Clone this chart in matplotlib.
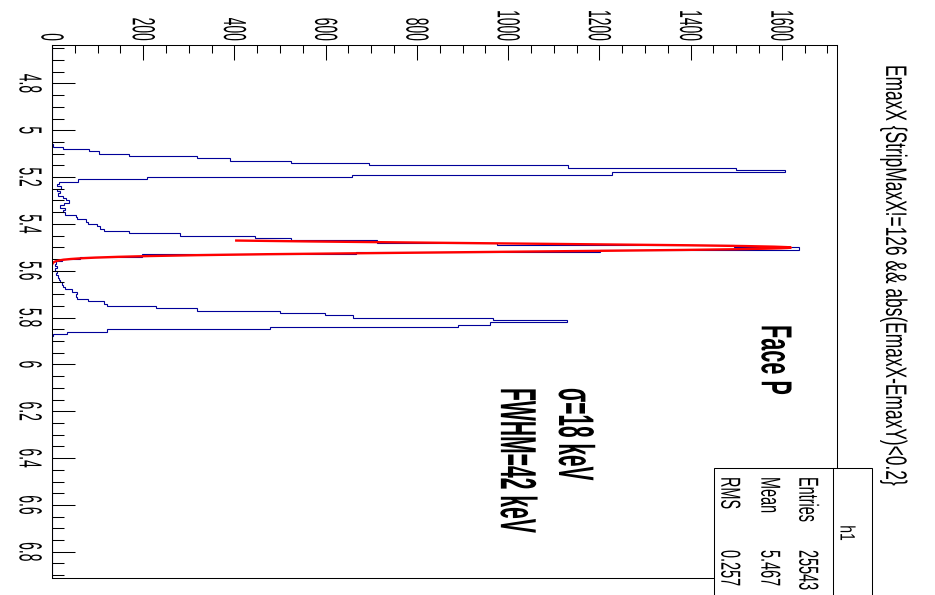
import numpy as np
import matplotlib
matplotlib.use("Agg")
import matplotlib.pyplot as plt
import matplotlib.patheffects as pe
from matplotlib.patches import Rectangle
from matplotlib.lines import Line2D
from matplotlib.ticker import MultipleLocator
from matplotlib.transforms import Affine2D

# ---------- 数据（从图上读，0.01 MeV 一格，从 5.05 MeV 起）----------
E_START = 5.05
COUNTS = [1, 3, 25, 82, 104, 169, 317, 390, 524, 696,          # 5.05-5.14
          1132, 1500, 1607, 1227, 657, 208, 58, 16, 12, 19,    # 5.15-5.24
          12, 18, 13, 25, 30, 38, 27, 18, 29, 25,              # 5.25-5.34
          28, 52, 54, 75, 80, 98, 105, 113, 169, 281,          # 5.35-5.44
          445, 524, 712, 976, 1496, 1638, 1202, 667, 197, 61,  # 5.45-5.54
          23, 9, 6, 11, 7, 12, 9, 13, 15, 18,                  # 5.55-5.64
          23, 25, 28, 43, 54, 52, 54, 80, 113, 120,            # 5.65-5.74
          228, 317, 500, 599, 659, 966, 1128, 960, 890, 478,   # 5.75-5.84
          121, 32, 3]                                          # 5.85-5.87

# 高斯拟合（红线）
FIT_MEAN, FIT_SIGMA, FIT_AMP = 5.501, 0.018, 1620
FIT_RANGE = (5.471, 5.570)

TITLE = "EmaxX {StripMaxX!=126 && abs(EmaxX-EmaxY)<0.2}"
E_TICKS = [4.8, 5.0, 5.2, 5.4, 5.6, 5.8, 6.0, 6.2, 6.4, 6.6, 6.8]
E_LABELS = ["4.8", "5", "5.2", "5.4", "5.6", "5.8", "6", "6.2", "6.4", "6.6", "6.8"]
N_TICKS = [0, 200, 400, 600, 800, 1000, 1200, 1400, 1600]
STATS = [("Entries", "25543"), ("Mean", "5.467"), ("RMS", "0.257")]

W, H = 935, 595
plt.rcParams["font.family"] = ["Liberation Sans", "DejaVu Sans"]


class Tall(pe.AbstractPathEffect):
    """原图（ROOT 画布）被横向拉伸过，字形偏高：沿字高方向放大 k 倍"""
    def __init__(self, k):
        super().__init__()
        self.k = k

    def draw_path(self, renderer, gc, tpath, affine, rgbFace=None):
        local = Affine2D().translate(0, -36).scale(1, self.k).translate(0, 36)
        renderer.draw_path(gc, tpath, local + affine, rgbFace)


def vtext(x, y, s, size, k, va="top", **kw):
    # 像素坐标，竖排（从上往下读）
    fig.text(x / W, 1 - y / H, s, rotation=-90, ha="center", va=va,
             fontsize=size, path_effects=[Tall(k)], **kw)


edges = np.round(np.arange(464, 692) / 100, 2)   # 4.64 ... 6.91
h = np.zeros(len(edges) - 1)
i0 = int(round((E_START - edges[0]) * 100))
h[i0:i0 + len(COUNTS)] = COUNTS

fig = plt.figure(figsize=(W / 100, H / 100), dpi=100)
ax = fig.add_axes([52 / W, 1 - 578 / H, 785 / W, 533 / H])

ax.stairs(h, edges, orientation="horizontal", color="#000099", lw=0.8)
e = np.linspace(*FIT_RANGE, 300)
ax.plot(FIT_AMP * np.exp(-0.5 * ((e - FIT_MEAN) / FIT_SIGMA) ** 2), e, color="red", lw=1.7)

ax.set_xlim(0, 1721)
ax.set_ylim(6.912, 4.636)
for s in ax.spines.values():
    s.set_linewidth(0.75)

# 计数轴在上，能量轴在左，刻度朝里
ax.xaxis.set_ticks_position("top")
ax.set_xticks(N_TICKS, [str(v) for v in N_TICKS])
ax.xaxis.set_minor_locator(MultipleLocator(50))
ax.set_yticks(E_TICKS, E_LABELS)
ax.yaxis.set_minor_locator(MultipleLocator(0.05))
ax.tick_params(axis="x", which="major", direction="in", length=10.8, width=0.75,
               pad=2.9, labelsize=10, top=True, bottom=False, labeltop=True, labelbottom=False)
ax.tick_params(axis="x", which="minor", direction="in", length=5.8, width=0.75, top=True, bottom=False)
ax.tick_params(axis="y", which="major", direction="in", length=16.6, width=0.75,
               pad=15.8, labelsize=10, left=True, right=False)
ax.tick_params(axis="y", which="minor", direction="in", length=8.6, width=0.75, left=True, right=False)
for lbl in ax.get_xticklabels():
    lbl.set_rotation(-90)
    lbl.set_ha("center")
    lbl.set_va("bottom")
    lbl.set_path_effects([Tall(2.3)])
for lbl in ax.get_yticklabels():
    lbl.set_rotation(-90)
    lbl.set_ha("center")
    lbl.set_va("center")
    lbl.set_path_effects([Tall(2.3)])

# 标题和注释
vtext(895, 65, TITLE, 12.5, 1.7)
vtext(775, 325, "Face P", 15.6, 2.0, fontweight="bold")
vtext(575, 388, "σ=18 keV", 15, 2.4, fontweight="bold")
vtext(517, 388, "FWHM=42 keV", 15.2, 2.4, fontweight="bold")

# 统计框（右下角，被画布截掉一截）
fig.add_artist(Rectangle((714 / W, 1 - 600 / H), 158 / W, 132 / H, transform=fig.transFigure,
                         fc="white", ec="black", lw=0.75))
fig.add_artist(Line2D([833 / W, 833 / W], [1 - 468 / H, 1 - 600 / H], color="black", lw=0.75))
vtext(847, 533, "h1", 10, 1.5, va="center")
for xc, (name, val) in zip([808, 770, 730], STATS):
    vtext(xc, 477, name, 10.4, 1.9)
    vtext(xc, 550, val, 10.4, 1.9)

fig.savefig("out.png", dpi=100)
